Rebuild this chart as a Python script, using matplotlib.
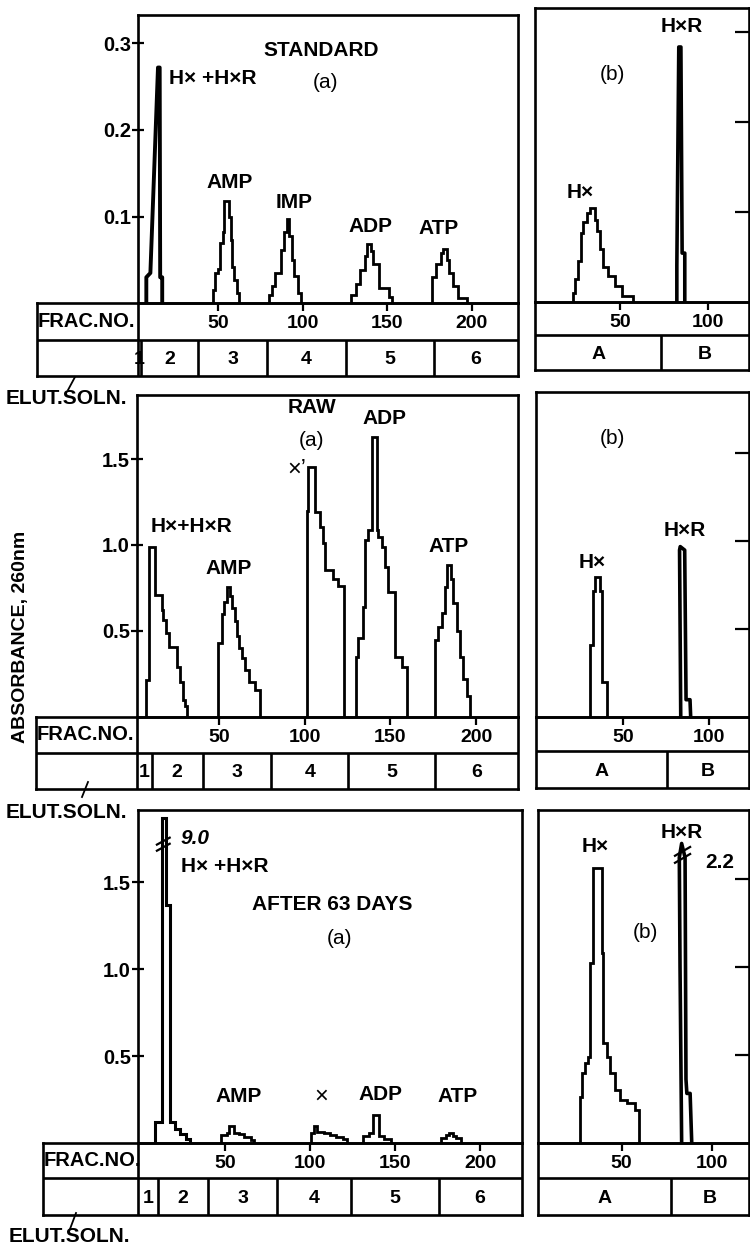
import matplotlib
matplotlib.use('Agg')
import matplotlib.pyplot as plt
from matplotlib.lines import Line2D

plt.rcParams['font.family'] = ['Liberation Sans', 'DejaVu Sans']
plt.rcParams['font.weight'] = 'bold'

# ---------------- data ----------------
std_yticks = [0.1, 0.2, 0.3]
abs_yticks = [0.5, 1.0, 1.5]
frac_ticks_a = [50, 100, 150, 200]
frac_ticks_b = [50, 100]
solution_labels_a = ['1', '2', '3', '4', '5', '6']
solution_labels_b = ['A', 'B']

std_sol_bounds = [4.4, 38.2, 78.8, 125.6, 177.5]
raw_sol_bounds = [10.4, 40.3, 80.2, 125.4, 176.0]
aged_sol_bounds = [10.8, 40.1, 80.6, 124.2, 175.6]
std_sol_bounds_b = [73.6]
raw_sol_bounds_b = [75.3]
aged_sol_bounds_b = [77.2]

# STANDARD (a)
std_hx_x = [7.4, 7.4, 9.8, 14.3, 15.3, 15.6, 16.8, 16.8]
std_hx_y = [0, 0.03, 0.035, 0.272, 0.272, 0.03, 0.03, 0]
std_amp_edges = [46.7, 48.2, 49.5, 51.2, 52.5, 53.5, 56.3, 57.2, 58, 59.4, 61, 62.4]
std_amp_vals = [0.015, 0.035, 0.04, 0.07, 0.082, 0.118, 0.1, 0.073, 0.042, 0.027, 0.012]
std_imp_edges = [79.8, 81.8, 83.8, 86.9, 89, 90.5, 92, 93.5, 95, 97, 99.1]
std_imp_vals = [0.01, 0.02, 0.035, 0.062, 0.082, 0.097, 0.078, 0.05, 0.031, 0.012]
std_adp_edges = [128.5, 131.5, 134, 136.5, 138, 140, 141.5, 145, 151, 153]
std_adp_vals = [0.01, 0.022, 0.038, 0.055, 0.068, 0.06, 0.045, 0.018, 0.007]
std_atp_edges = [176.5, 178.5, 181.5, 183, 185, 186.5, 188.5, 191.5, 197]
std_atp_vals = [0.03, 0.045, 0.058, 0.063, 0.05, 0.035, 0.02, 0.006]
# STANDARD (b)
std_b_hx_edges = [23.6, 24.5, 26.4, 27.9, 29.2, 31.1, 33, 35.8, 36.8, 38.7, 40.5, 43.4, 47.2, 51, 57.5]
std_b_hx_vals = [0.01, 0.025, 0.045, 0.076, 0.088, 0.098, 0.104, 0.091, 0.078, 0.058, 0.039, 0.028, 0.017, 0.006]
std_b_hxr_x = [82.3, 82.3, 83.4, 84.6, 85.3, 86.8, 86.8]
std_b_hxr_y = [0, 0.04, 0.283, 0.283, 0.054, 0.054, 0]

# RAW (a)
raw_hx_edges = [7.2, 9.1, 12.4, 16.3, 17.3, 18.9, 20.8, 25.1, 27, 29, 30.2, 31.3]
raw_hx_vals = [0.215, 0.99, 0.708, 0.62, 0.563, 0.485, 0.407, 0.29, 0.2, 0.097, 0.06]
raw_amp_edges = [49.4, 51.4, 52.9, 54.3, 56.2, 57.6, 59.2, 60.4, 61.6, 63, 65, 67.5, 71, 73.8]
raw_amp_vals = [0.43, 0.60, 0.67, 0.757, 0.70, 0.63, 0.56, 0.47, 0.40, 0.34, 0.27, 0.20, 0.155]
raw_x_edges = [101, 102, 105.9, 108.8, 110.4, 111.7, 116.6, 119.5, 122.8]
raw_x_vals = [1.2, 1.455, 1.19, 1.106, 1.009, 0.854, 0.80, 0.76]
raw_adp_edges = [129.9, 131.2, 134.1, 135.1, 137, 139, 141.9, 142.9, 144.9, 146.8, 148.7, 152.6, 156.5, 159.5]
raw_adp_vals = [0.35, 0.456, 0.64, 1.03, 1.087, 1.63, 1.087, 1.048, 0.99, 0.873, 0.725, 0.349, 0.291]
raw_atp_edges = [176, 177.9, 179.9, 181.8, 182.8, 185.2, 186.7, 188.7, 190.6, 192.5, 194.5, 196.4]
raw_atp_vals = [0.446, 0.524, 0.602, 0.757, 0.883, 0.80, 0.66, 0.50, 0.35, 0.22, 0.12]
# RAW (b)
raw_b_hx_edges = [30.6, 32.1, 33.5, 36.5, 37.4, 40.7]
raw_b_hx_vals = [0.41, 0.72, 0.80, 0.72, 0.2]
raw_b_hxr_x = [83.5, 82.8, 83.2, 85.8, 86.6, 88.9, 89.3]
raw_b_hxr_y = [0, 0.95, 0.97, 0.95, 0.1, 0.1, 0]

# AFTER 63 DAYS (a)
aged_hx_edges = [8.8, 12.7, 15.6, 17.5, 20.5, 23.4, 27.3, 29.2]
aged_hx_vals = [0.122, 1.87, 1.37, 0.12, 0.08, 0.05, 0.025]
aged_amp_edges = [47.4, 51, 52.6, 55.1, 58, 61.1, 65.1, 67.1]
aged_amp_vals = [0.046, 0.058, 0.095, 0.06, 0.05, 0.035, 0.015]
aged_x_edges = [100.4, 102.4, 104.4, 108, 111.5, 115.5, 119.5, 121.5]
aged_x_vals = [0.058, 0.1, 0.065, 0.055, 0.045, 0.035, 0.025]
aged_adp_edges = [131.2, 134.5, 137, 140.6, 143.7, 147.7]
aged_adp_vals = [0.038, 0.058, 0.16, 0.04, 0.025]
aged_atp_edges = [176.9, 180, 182, 184, 186, 189]
aged_atp_vals = [0.03, 0.046, 0.058, 0.04, 0.028]
aged_break_x = [10.0, 17.5]
aged_break_y = [1.68, 1.72]
# AFTER 63 DAYS (b)
aged_b_hx_edges = [27, 27.8, 29.6, 31.5, 32.4, 34.2, 38.9, 39.8, 41.7, 43.5, 46.3, 49.1, 52.8, 57.4, 59.8]
aged_b_hx_vals = [0.262, 0.395, 0.452, 0.489, 1.02, 1.56, 1.08, 0.565, 0.489, 0.395, 0.30, 0.243, 0.224, 0.186]
aged_b_hxr_x = [83.3, 82.4, 82.0, 83.3, 85.2, 85.7, 86.2, 88.0, 88.9]
aged_b_hxr_y = [0, 1.0, 1.62, 1.70, 1.62, 0.36, 0.28, 0.28, 0]
aged_b_break_x = [79.6, 88.0]
aged_b_break_y = [1.59, 1.64]

# ---------------- layout helpers ----------------
W, H = 750, 1248
fig = plt.figure(figsize=(7.5, 12.48), dpi=100)
LW = 1.9
FS = 15


def rect(x0, y0, x1, y1):
    return [x0 / W, 1 - y1 / H, (x1 - x0) / W, (y1 - y0) / H]


def ftext(x, y, s, ha='center', va='center', size=FS, weight='bold', style='normal', rot=0):
    fig.text(x / W, 1 - y / H, s, ha=ha, va=va, fontsize=size, fontweight=weight,
             fontstyle=style, rotation=rot)


def fline(xs, ys, lw=1.3):
    fig.add_artist(Line2D([x / W for x in xs], [1 - y / H for y in ys],
                          color='k', lw=lw, transform=fig.transFigure))


def panel(L, R, top, base, div, bot, xlim, ylim, yticks, xticks, bounds, seg_labels,
          table_left=None):
    ax = fig.add_axes(rect(L, top, R, base))
    ax.set_xlim(xlim)
    ax.set_ylim(ylim)
    for s in ax.spines.values():
        s.set_linewidth(LW)
    ax.set_xticks(xticks)
    ax.set_xticklabels([str(t) for t in xticks])
    ax.tick_params(axis='x', direction='out', length=6, width=1.6, pad=2.5, labelsize=14)
    ax.set_yticks(yticks)
    if table_left is not None:
        ax.set_yticklabels([f'{t:.1f}' for t in yticks])
        ax.tick_params(axis='y', direction='inout', length=9, width=1.6, pad=0.5, labelsize=14.5)
    else:
        ax.tick_params(axis='y', left=False, right=True, labelleft=False, labelright=False,
                       direction='in', length=10, width=1.6)
    # table frame
    x0 = table_left if table_left is not None else L
    tab = fig.add_axes(rect(x0, base, R, bot))
    tab.set_xlim(0, 1)
    tab.set_ylim(0, 1)
    tab.set_xticks([])
    tab.set_yticks([])
    tab.patch.set_visible(False)
    for s in tab.spines.values():
        s.set_linewidth(LW)
    tab.axhline((bot - div) / (bot - base), color='k', lw=LW)
    if table_left is not None:
        tab.axvline((L - x0) / (R - x0), color='k', lw=LW)
        ftext(x0 + 1, (base + div) / 2, 'FRAC.NO.', ha='left', size=14.5)
    # elution solution segments
    seg = fig.add_axes(rect(L, div, R, bot))
    seg.set_xlim(xlim)
    seg.set_ylim(0, 1)
    seg.axis('off')
    seg.vlines(bounds, 0, 1, color='k', lw=LW)
    edges = [xlim[0]] + list(bounds) + [xlim[1]]
    for i, lab in enumerate(seg_labels):
        seg.text((edges[i] + edges[i + 1]) / 2, 0.45, lab, ha='center', va='center',
                 fontsize=14, fontweight='bold')
    return ax


def steps(ax, edges, vals, lw=2.0):
    ax.stairs(vals, edges, baseline=0, color='k', lw=lw)


def spike(ax, xs, ys, lw=2.5):
    ax.plot(xs, ys, color='k', lw=lw, solid_joinstyle='round')


# ---------------- panel 1: STANDARD ----------------
a1 = panel(137.7, 517.6, 15, 303.3, 339.5, 376, (2.3, 227.0), (0, 0.3326),
           std_yticks, frac_ticks_a, std_sol_bounds, solution_labels_a, table_left=37)
spike(a1, std_hx_x, std_hx_y, lw=2.8)
steps(a1, std_amp_edges, std_amp_vals)
steps(a1, std_imp_edges, std_imp_vals)
steps(a1, std_adp_edges, std_adp_vals)
steps(a1, std_atp_edges, std_atp_vals)

b1 = panel(535, 749, 8.3, 301.7, 335, 370, (1.9, 123.2), (0, 0.326),
           std_yticks, frac_ticks_b, std_sol_bounds_b, solution_labels_b)
steps(b1, std_b_hx_edges, std_b_hx_vals)
spike(b1, std_b_hxr_x, std_b_hxr_y, lw=2.6)

ftext(321, 51, 'STANDARD')
ftext(325, 83, '(a)', weight='normal')
ftext(169, 79, 'H\u00d7 +H\u00d7R', ha='left')
ftext(230, 182, 'AMP')
ftext(294, 202, 'IMP')
ftext(370, 226, 'ADP')
ftext(439, 229, 'ATP')
ftext(612, 75, '(b)', weight='normal')
ftext(682, 27, 'H\u00d7R')
ftext(580, 192, 'H\u00d7')

# ---------------- panel 2: RAW ----------------
a2 = panel(136.7, 518.2, 395, 716.7, 752.7, 789.3, (1.75, 224.6), (0, 1.873),
           abs_yticks, frac_ticks_a, raw_sol_bounds, solution_labels_a, table_left=36)
steps(a2, raw_hx_edges, raw_hx_vals)
steps(a2, raw_amp_edges, raw_amp_vals)
steps(a2, raw_x_edges, raw_x_vals)
steps(a2, raw_adp_edges, raw_adp_vals)
steps(a2, raw_atp_edges, raw_atp_vals)

b2 = panel(536, 749, 391.7, 717.3, 750.7, 788.3, (-0.9, 123.3), (0, 1.85),
           abs_yticks, frac_ticks_b, raw_sol_bounds_b, solution_labels_b)
steps(b2, raw_b_hx_edges, raw_b_hx_vals)
spike(b2, raw_b_hxr_x, raw_b_hxr_y, lw=2.6)

ftext(312, 408, 'RAW')
ftext(311, 441, '(a)', weight='normal')
ftext(384, 419, 'ADP')
ftext(297, 470, '\u00d7\u2019', weight='normal', size=17)
ftext(191, 527, 'H\u00d7+H\u00d7R')
ftext(229, 569, 'AMP')
ftext(449, 546, 'ATP')
ftext(612, 438, '(b)', weight='normal')
ftext(685, 531, 'H\u00d7R')
ftext(592, 562, 'H\u00d7')

# ---------------- panel 3: AFTER 63 DAYS ----------------
a3 = panel(137.7, 521.7, 810, 1143, 1178, 1215, (-1.3, 224.5), (0, 1.914),
           abs_yticks, frac_ticks_a, aged_sol_bounds, solution_labels_a, table_left=43)
steps(a3, aged_hx_edges, aged_hx_vals, lw=2.2)
steps(a3, aged_amp_edges, aged_amp_vals)
steps(a3, aged_x_edges, aged_x_vals)
steps(a3, aged_adp_edges, aged_adp_vals)
steps(a3, aged_atp_edges, aged_atp_vals)
for dy in (0.0, 0.035):
    a3.plot(aged_break_x, [v + dy for v in aged_break_y], color='k', lw=1.6)

b3 = panel(538.3, 749, 810, 1142.7, 1178.3, 1215, (3.7, 120.7), (0, 1.89),
           abs_yticks, frac_ticks_b, aged_sol_bounds_b, solution_labels_b)
steps(b3, aged_b_hx_edges, aged_b_hx_vals)
spike(b3, aged_b_hxr_x, aged_b_hxr_y, lw=2.6)
for dy in (0.0, 0.04):
    b3.plot(aged_b_break_x, [v + dy for v in aged_b_break_y], color='k', lw=1.6)

ftext(181, 838, '9.0', ha='left', style='italic')
ftext(181, 866, 'H\u00d7 +H\u00d7R', ha='left')
ftext(332, 905, 'AFTER 63 DAYS')
ftext(339, 938, '(a)', weight='normal')
ftext(239, 1097, 'AMP')
ftext(321, 1097, '\u00d7', weight='normal', size=17)
ftext(380, 1094, 'ADP')
ftext(458, 1096, 'ATP')
ftext(595, 846, 'H\u00d7')
ftext(682, 833, 'H\u00d7R')
ftext(705, 862, '2.2', ha='left')
ftext(645, 932, '(b)', weight='normal')

# ---------------- shared labels ----------------
ftext(21, 637, 'ABSORBANCE, 260nm', rot=90, size=14)
ftext(6, 399, 'ELUT.SOLN.', ha='left')
ftext(6, 812, 'ELUT.SOLN.', ha='left')
ftext(9, 1237, 'ELUT.SOLN.', ha='left')
fline([68, 75], [390, 377])
fline([82, 88], [797, 782])
fline([70, 76], [1229, 1213])

fig.savefig('out.png', dpi=100)
